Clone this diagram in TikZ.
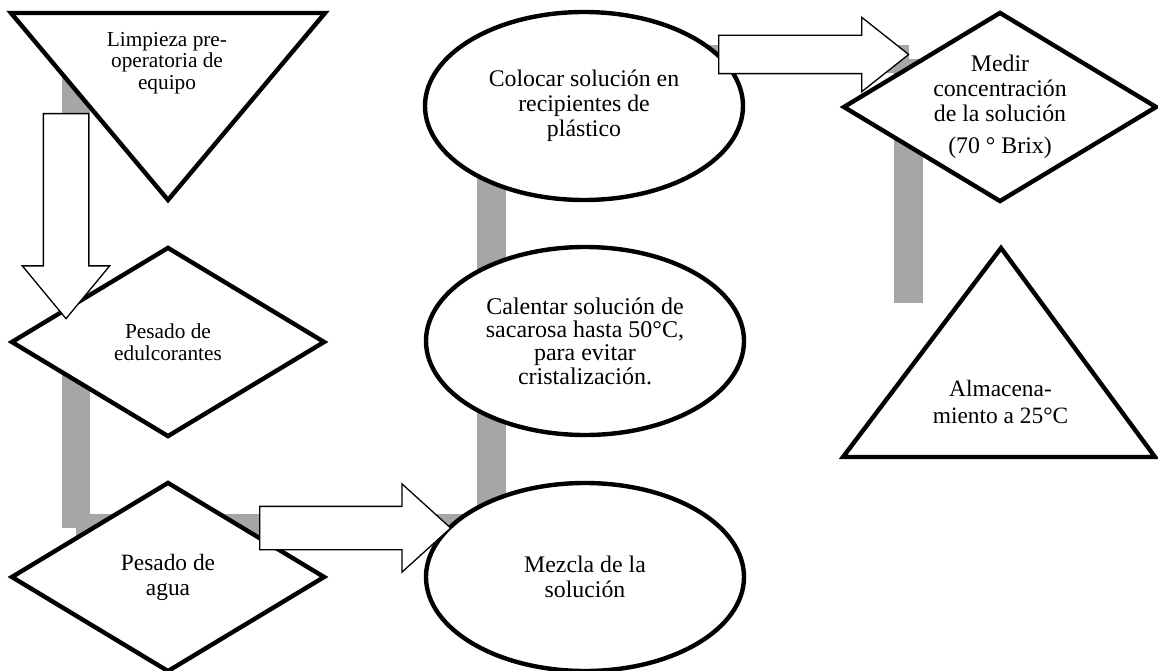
\documentclass[tikz,border=0pt]{standalone}
\usepackage{fontspec}
\setmainfont{Liberation Serif}
\usetikzlibrary{shapes.geometric}
\usetikzlibrary{shapes.arrows}

\definecolor{flowgray}{RGB}{166,166,166}

\begin{document}
\begin{tikzpicture}[x=1pt, y=-1pt,
  proc/.style={ellipse, draw, line width=4.4pt, fill=white, minimum width=318pt, minimum height=188pt, inner sep=0pt, align=center, font=\fontsize{23.8}{25}\selectfont},
  deci/.style={diamond, draw, line width=4.4pt, fill=white, minimum width=314pt, minimum height=190pt, aspect=1.65, inner sep=0pt, align=center, font=\fontsize{23.8}{25}\selectfont},
  smalltext/.style={font=\fontsize{21.3}{21.7}\selectfont},
  tri/.style={draw, line width=4.4pt, fill=white},
  tritext/.style={align=center, inner sep=0pt, font=\fontsize{23.4}{26.7}\selectfont},
  blockarrow/.style={single arrow, draw, fill=white, line width=1.3pt, inner xsep=0pt, single arrow head indent=0pt},
  flowline/.style={flowgray, line width=28.5pt}]

\useasboundingbox (0,0) rectangle (1158,671);

\coordinate (g1) at (76,60);
\coordinate (g2) at (76,528);
\coordinate (g3) at (491.5,528);
\coordinate (g4) at (491.5,59);
\coordinate (g5) at (908.5,59);
\coordinate (g6) at (908.5,303);
\draw[flowline] (g1) -- (g2) (g2) -- (g3) (g3) -- (g4) (g4) -- (g5) (g5) -- (g6);

\draw[tri] (11,13) -- (325,13) -- (168,200) -- cycle;
\node[tritext, smalltext] (limpieza) at (167,63) {Limpieza pre-\\operatoria de\\equipo};
\node[deci, smalltext] (edulc) at (168,342) {Pesado de\\edulcorantes};
\node[deci, font=\fontsize{23.4}{25}\selectfont] (agua) at (168,577) {Pesado de\\agua};
\node[proc] (mezcla) at (585,577) {Mezcla de la\\solución};
\node[proc, font=\fontsize{24}{23.3}\selectfont] (calentar) at (585,341) {Calentar solución de\\sacarosa hasta 50°C,\\para evitar\\cristalización.};
\node[proc] (colocar) at (584,106) {Colocar solución en\\recipientes de\\plástico};
\node[deci] (medir) at (1000,107) {Medir\\concentración\\de la solución\\[6.7pt](70 ° Brix)};
\draw[tri] (1001,248) -- (1155,457) -- (843,457) -- cycle;
\node[tritext] (almac) at (1000.5,402) {Almacena-\\miento a 25°C};

\node[blockarrow, rotate=-90, anchor=tail, minimum height=205pt, inner ysep=22pt, single arrow head extend=21pt, single arrow tip angle=79.2] (a1) at (66,113) {};
\node[blockarrow, anchor=tail, minimum height=191pt, inner ysep=21pt, single arrow head extend=22.5pt, single arrow tip angle=84.4] (a2) at (259,528) {};
\node[blockarrow, anchor=tail, minimum height=190pt, inner ysep=18.5pt, single arrow head extend=18pt, single arrow tip angle=76.8] (a3) at (718,54.5) {};

\end{tikzpicture}
\end{document}
